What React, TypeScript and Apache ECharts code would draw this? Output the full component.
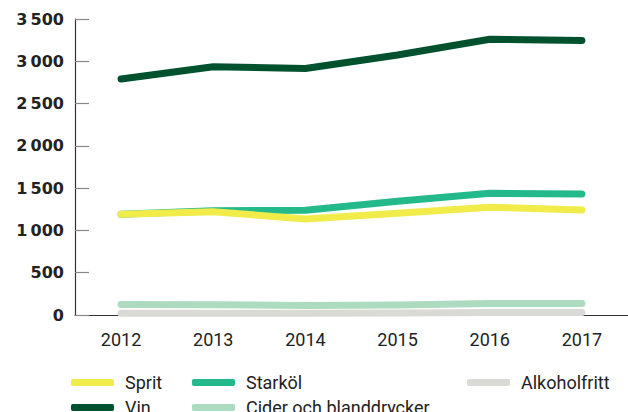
import React, { useEffect, useRef } from "react";
import * as echarts from "echarts";

const years = ["2012", "2013", "2014", "2015", "2016", "2017"];
const sprit = [1190, 1222, 1135, 1202, 1275, 1242];
const vin = [2790, 2935, 2915, 3075, 3260, 3245];
const starkol = [1190, 1232, 1238, 1345, 1439, 1431];
const cider = [125, 122, 112, 118, 135, 135];
const alkoholfritt = [20, 20, 20, 24, 30, 30];

const yTicks = { min: 0, max: 3500, interval: 500 };

const colors = {
  Sprit: "#f2ec4b",
  Vin: "#00522f",
  "Starköl": "#23b98a",
  "Cider och blanddrycker": "#acdbbf",
  Alkoholfritt: "#d9d9d6",
};

export default function App() {
  const ref = useRef<HTMLDivElement>(null);
  useEffect(() => {
    const chart = echarts.init(ref.current!, null, { renderer: "svg" });
    const mk = (name: string, data: number[], z: number) => ({
      name,
      type: "line",
      data,
      z,
      symbol: "none",
      color: (colors as any)[name],
      lineStyle: { width: 7, cap: "round", join: "round", color: (colors as any)[name] },
      itemStyle: { color: (colors as any)[name] },
    });
    const legendText = {
      fontFamily: "Roboto",
      fontSize: 18,
      color: "#222",
      lineHeight: 25,
      padding: [0, 0, 0, 6],
    };
    const legendBase = {
      orient: "vertical",
      top: 370,
      height: 80,
      itemWidth: 43,
      itemHeight: 7,
      itemGap: 0,
      padding: 0,
      icon: "roundRect",
      textStyle: legendText,
      selectedMode: false,
    };
    chart.setOption({
      animation: false,
      grid: { left: 75, top: 19, bottom: 97, width: 563, containLabel: false },
      legend: [
        { ...legendBase, left: 71, data: ["Sprit", "Vin"] },
        { ...legendBase, left: 192, data: ["Starköl", "Cider och blanddrycker"] },
        { ...legendBase, left: 467, data: ["Alkoholfritt"] },
      ],
      xAxis: {
        type: "category",
        data: years,
        boundaryGap: true,
        axisLine: { lineStyle: { color: "#333", width: 1.2 } },
        axisTick: { show: false },
        axisLabel: { fontFamily: "Roboto", fontSize: 18, color: "#222", margin: 15 },
      },
      yAxis: {
        type: "value",
        min: yTicks.min,
        max: yTicks.max,
        interval: yTicks.interval,
        splitLine: { show: false },
        axisLine: { show: true, lineStyle: { color: "#333", width: 1.2 } },
        axisTick: { show: true, inside: true, length: 14, lineStyle: { color: "#888", width: 1.2 } },
        axisLabel: {
          fontFamily: "DejaVu Sans",
          fontWeight: "bold",
          fontSize: 16,
          color: "#222",
          margin: 11,
          padding: [9, 0, 0, 0],
          formatter: (v: number) =>
            v >= 1000 ? String(v).replace(/(\d)(\d{3})$/, "$1\u2009$2") : String(v),
        },
      },
      series: [
        mk("Alkoholfritt", alkoholfritt, 2),
        mk("Cider och blanddrycker", cider, 3),
        mk("Starköl", starkol, 4),
        mk("Sprit", sprit, 5),
        mk("Vin", vin, 6),
      ],
    });
    return () => chart.dispose();
  }, []);
  return (
    <div
      ref={ref}
      style={{ position: "absolute", left: 0, top: 0, width: 628, height: 412 }}
    />
  );
}
